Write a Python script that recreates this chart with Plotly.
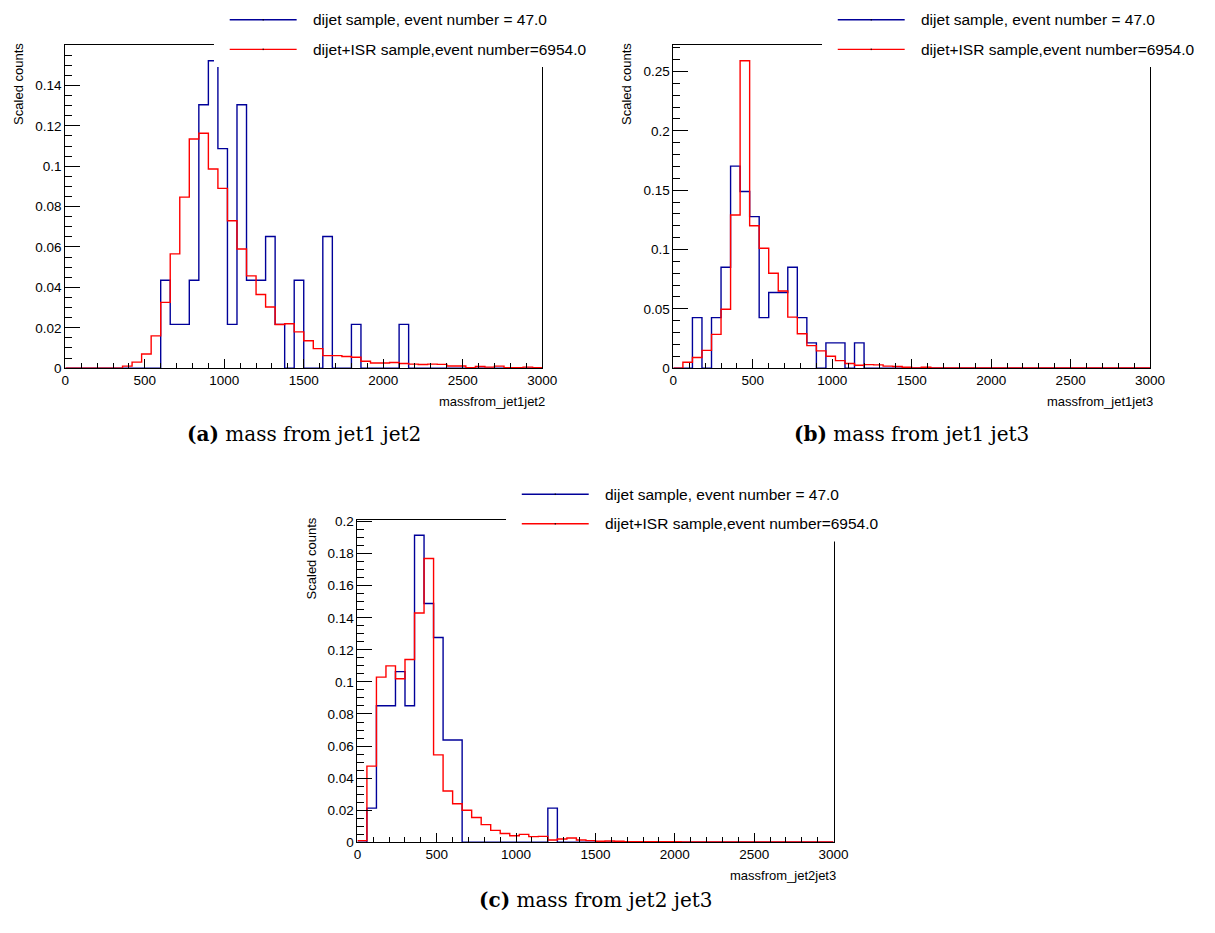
import plotly.graph_objects as go

W, H = 1215, 933

# 50 bins of 60 GeV from 0 to 3000
bin_edges = [60 * i for i in range(51)]

# (a) invariant mass of jet1 + jet2
a_dijet = [0, 0, 0, 0, 0, 0, 0, 0, 0, 0,
           0.0435, 0.0217, 0.0217, 0.0435, 0.1304, 0.1522, 0.1087, 0.0217, 0.1304, 0.0435,
           0.0435, 0.0652, 0.0217, 0, 0.0435, 0, 0, 0.0652, 0, 0,
           0.0217, 0, 0, 0, 0, 0.0217, 0, 0, 0, 0,
           0, 0, 0, 0, 0, 0, 0, 0, 0, 0]
a_isr = [0, 0, 0, 0, 0, 0, 0.001, 0.003, 0.007, 0.016,
         0.0326, 0.0566, 0.0847, 0.1135, 0.1163, 0.0986, 0.089, 0.073, 0.059, 0.0457,
         0.0365, 0.0303, 0.0216, 0.022, 0.018, 0.0136, 0.0097, 0.0062, 0.0062, 0.0058,
         0.0054, 0.0034, 0.0026, 0.0026, 0.0028, 0.0023, 0.002, 0.0018, 0.002, 0.0019,
         0.0011, 0.0011, 0.0002, 0.0008, 0.0005, 0.001, 0.0002, 0.0002, 0.0005, 0.0002]

# (b) invariant mass of jet1 + jet3
b_dijet = [0, 0, 0.0426, 0, 0.0426, 0.0851, 0.1702, 0.1489, 0.1277, 0.0426,
           0.0638, 0.0638, 0.0851, 0.0426, 0.0213, 0, 0.0213, 0.0213, 0, 0.0213,
           0, 0, 0, 0, 0, 0, 0, 0, 0, 0,
           0, 0, 0, 0, 0, 0, 0, 0, 0, 0,
           0, 0, 0, 0, 0, 0, 0, 0, 0, 0]
b_isr = [0, 0.005, 0.009, 0.015, 0.0285, 0.0497, 0.129, 0.259, 0.120, 0.101,
         0.080, 0.065, 0.043, 0.029, 0.019, 0.0146, 0.010, 0.0064, 0.004, 0.0025,
         0.003, 0.0028, 0.0017, 0.0014, 0.0008, 0.0003, 0.0008, 0.0002, 0.0002, 0.0002,
         0.0002, 0.0001, 0.0001, 0.0001, 0.0001, 0.0001, 0.0001, 0.0001, 0.0001, 0.0001,
         0.0001, 0.0001, 0.0001, 0.0001, 0.0001, 0.0001, 0.0001, 0.0001, 0.0001, 0.0001]

# (c) invariant mass of jet2 + jet3
c_dijet = [0, 0.0213, 0.0851, 0.0851, 0.1064, 0.0851, 0.1915, 0.1489, 0.1277, 0.0638,
           0.0638, 0, 0, 0, 0, 0, 0, 0, 0, 0,
           0.0213, 0, 0, 0, 0, 0, 0, 0, 0, 0,
           0, 0, 0, 0, 0, 0, 0, 0, 0, 0,
           0, 0, 0, 0, 0, 0, 0, 0, 0, 0]
c_isr = [0.001, 0.0475, 0.103, 0.110, 0.102, 0.114, 0.143, 0.177, 0.0545, 0.032,
         0.024, 0.020, 0.0154, 0.011, 0.0074, 0.0055, 0.0041, 0.0049, 0.0035, 0.0037,
         0.0014, 0.002, 0.0027, 0.0014, 0.001, 0.0006, 0.0008, 0.0006, 0.0004, 0.0004,
         0.0004, 0.0003, 0.0003, 0.0003, 0.0002, 0.0002, 0.0002, 0.0002, 0.0002, 0.0002,
         0.0002, 0.0002, 0.0002, 0.0002, 0.0002, 0.0002, 0.0002, 0.0002, 0.0002, 0.0002]

x_titles = ["massfrom_jet1jet2", "massfrom_jet1jet3", "massfrom_jet2jet3"]
captions = ["(a)", "(b)", "(c)"]
caption_texts = ["mass from jet1 jet2", "mass from jet1 jet3", "mass from jet2 jet3"]
legend_labels = ["dijet sample, event number = 47.0",
                 "dijet+ISR sample,event number=6954.0"]
y_dticks = [0.02, 0.05, 0.02]
y_minor = [0.005, 0.01, 0.005]

BLUE = "#000099"
RED = "#ff0000"
SANS = "Liberation Sans, Arial, sans-serif"
SERIF = "DejaVu Serif, serif"

# pad frames in pixels: left, right, top, bottom
frames = [(62.3, 546.7, 40.0, 367.7),
          (680.0, 1164.3, 40.0, 367.7),
          (359.0, 842.7, 521.7, 849.0)]
caption_pos = [(304.5, 435.0), (922.0, 435.0), (601.0, 908.0)]


def px(x):
    return x / W


def py(y):
    return 1 - y / H


fig = go.Figure()
shapes = []
annotations = []
series = [(a_dijet, a_isr), (b_dijet, b_isr), (c_dijet, c_isr)]

for i, ((dijet, isr), (l, r, t, b)) in enumerate(zip(series, frames)):
    k = "" if i == 0 else str(i + 1)
    xa, ya = "x" + k, "y" + k
    for vals, col in ((dijet, BLUE), (isr, RED)):
        fig.add_trace(go.Scatter(
            x=bin_edges, y=list(vals) + [vals[-1]],
            mode="lines", line=dict(color=col, width=1.4, shape="hv"),
            xaxis=xa, yaxis=ya, showlegend=False, hoverinfo="skip"))

    ymax = 1.05 * max(max(dijet), max(isr))
    axis_common = dict(showline=True, linecolor="black", linewidth=1, mirror=True,
                       showgrid=False, zeroline=False, ticks="inside",
                       tickcolor="black", tickwidth=1,
                       tickfont=dict(family=SANS, size=13.5, color="black"))
    fig.layout["xaxis" + k] = dict(
        domain=[px(l), px(r)], anchor=ya, range=[0, 3000],
        tick0=0, dtick=500, ticklen=9,
        minor=dict(dtick=100, ticklen=5, ticks="inside", tickcolor="black", showgrid=False),
        **axis_common)
    fig.layout["yaxis" + k] = dict(
        domain=[py(b), py(t)], anchor=xa, range=[0, ymax],
        tick0=0, dtick=y_dticks[i], ticklen=15,
        minor=dict(dtick=y_minor[i], ticklen=7, ticks="inside", tickcolor="black", showgrid=False),
        **axis_common)

    # legend box (white, hides the frame behind it)
    shapes.append(dict(type="rect", xref="paper", yref="paper", layer="above",
                       x0=px(l + 151), x1=px(l + 545), y0=py(t - 41), y1=py(t + 22),
                       fillcolor="white", line=dict(width=0)))
    for j, (col, label) in enumerate(zip((BLUE, RED), legend_labels)):
        yy = t - 26 + 30 * j
        shapes.append(dict(type="line", xref="paper", yref="paper", layer="above",
                           x0=px(l + 167), x1=px(l + 235), y0=py(yy), y1=py(yy),
                           line=dict(color=col, width=1.4)))
        shapes.append(dict(type="line", xref="paper", yref="paper", layer="above",
                           x0=px(l + 201), x1=px(l + 201), y0=py(yy - 0.8), y1=py(yy + 0.8),
                           line=dict(color="black", width=1)))
        annotations.append(dict(xref="paper", yref="paper", x=px(l + 250), y=py(yy),
                                xanchor="left", yanchor="middle", showarrow=False,
                                text=label, font=dict(family=SANS, size=15.5, color="black")))

    # axis titles
    annotations.append(dict(xref="paper", yref="paper", x=px(r + 5), y=py(b + 34),
                            xanchor="right", yanchor="middle", showarrow=False,
                            text=x_titles[i], font=dict(family=SANS, size=13, color="black")))
    annotations.append(dict(xref="paper", yref="paper", x=px(l - 47), y=py(t + 39),
                            xanchor="center", yanchor="middle", showarrow=False, textangle=-90,
                            text="Scaled counts", font=dict(family=SANS, size=13, color="black")))
    # sub-figure caption
    cx, cy = caption_pos[i]
    annotations.append(dict(xref="paper", yref="paper", x=px(cx), y=py(cy),
                            xanchor="center", yanchor="middle", showarrow=False,
                            text="<b>" + captions[i] + "</b> " + caption_texts[i],
                            font=dict(family=SERIF, size=20, color="black")))

fig.update_layout(width=W, height=H, margin=dict(l=0, r=0, t=0, b=0),
                  paper_bgcolor="white", plot_bgcolor="white",
                  shapes=shapes, annotations=annotations, showlegend=False)

fig.write_html("out.html")
